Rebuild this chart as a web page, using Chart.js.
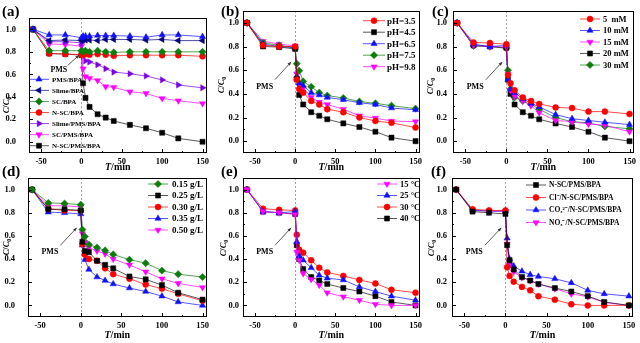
<!DOCTYPE html>
<html>
<head>
<meta charset="utf-8">
<script src="https://cdn.jsdelivr.net/npm/chart.js@4.4.0/dist/chart.umd.min.js"></script>
<style>
  body { margin: 0; background: #fff; width: 640px; height: 343px; position: relative; overflow: hidden; }
  canvas { position: absolute; }
</style>
</head>
<body>
<canvas id="ca"></canvas><canvas id="cb"></canvas><canvas id="cc"></canvas>
<canvas id="cd"></canvas><canvas id="ce"></canvas><canvas id="cf"></canvas>
<script>
// sampling times (min) shared by every series
const times = [-60, -40, -20, 0, 2, 5, 10, 20, 30, 40, 60, 80, 100, 120, 150];
const xTicks = [-50, 0, 50, 100, 150];
const yTicks = [0, 0.2, 0.4, 0.6, 0.8, 1.0];

// (a) systems
const aLabels = ['PMS/BPA', 'Slime/BPA', 'SC/BPA', 'N-SC/BPA', 'Slime/PMS/BPA', 'SC/PMS/BPA', 'N-SC/PMS/BPA'];
const aPmsBpa   = [1.0, 0.95, 0.95, 0.925, 0.94, 0.94, 0.94, 0.945, 0.945, 0.945, 0.94, 0.93, 0.95, 0.95, 0.935];
const aSlimeBpa = [1.0, 0.90, 0.905, 0.90, 0.91, 0.905, 0.905, 0.90, 0.91, 0.91, 0.91, 0.905, 0.91, 0.90, 0.90];
const aScBpa    = [1.0, 0.81, 0.81, 0.81, 0.80, 0.81, 0.80, 0.81, 0.80, 0.795, 0.80, 0.80, 0.80, 0.80, 0.80];
const aNscBpa   = [1.0, 0.785, 0.78, 0.775, 0.77, 0.78, 0.775, 0.78, 0.775, 0.765, 0.77, 0.77, 0.77, 0.77, 0.76];
const aSlimePms = [1.0, 0.89, 0.89, 0.88, 0.78, 0.72, 0.71, 0.685, 0.65, 0.62, 0.605, 0.585, 0.55, 0.505, 0.48];
const aScPms    = [1.0, 0.87, 0.865, 0.85, 0.65, 0.58, 0.565, 0.545, 0.49, 0.485, 0.445, 0.43, 0.385, 0.365, 0.34];
const aNscPms   = [1.0, 0.785, 0.78, 0.77, 0.52, 0.39, 0.31, 0.245, 0.215, 0.185, 0.15, 0.12, 0.08, 0.03, 0.0];

// (b) initial pH
const bLabels = ['pH=3.5', 'pH=4.5', 'pH=6.5', 'pH=7.5', 'pH=9.8'];
const bPh35 = [1.0, 0.81, 0.80, 0.80, 0.52, 0.44, 0.41, 0.34, 0.31, 0.27, 0.245, 0.20, 0.17, 0.155, 0.115];
const bPh45 = [1.0, 0.80, 0.795, 0.78, 0.525, 0.39, 0.31, 0.245, 0.215, 0.185, 0.15, 0.12, 0.08, 0.03, 0.0];
const bPh65 = [1.0, 0.82, 0.80, 0.79, 0.55, 0.49, 0.47, 0.41, 0.39, 0.37, 0.35, 0.325, 0.31, 0.28, 0.265];
const bPh75 = [1.0, 0.83, 0.81, 0.79, 0.655, 0.595, 0.505, 0.46, 0.41, 0.385, 0.365, 0.335, 0.32, 0.30, 0.275];
const bPh98 = [1.0, 0.845, 0.82, 0.805, 0.57, 0.47, 0.45, 0.37, 0.33, 0.31, 0.27, 0.215, 0.195, 0.17, 0.165];

// (c) PMS dosage
const cLabels = ['5  mM', '10 mM', '15 mM', '20 mM', '30 mM'];
const c5  = [1.0, 0.835, 0.83, 0.82, 0.56, 0.49, 0.43, 0.37, 0.34, 0.315, 0.285, 0.28, 0.25, 0.25, 0.23];
const c10 = [1.0, 0.82, 0.80, 0.81, 0.52, 0.44, 0.41, 0.36, 0.32, 0.29, 0.225, 0.19, 0.175, 0.16, 0.14];
const c15 = [1.0, 0.81, 0.80, 0.795, 0.565, 0.43, 0.38, 0.34, 0.30, 0.24, 0.175, 0.165, 0.145, 0.135, 0.08];
const c20 = [1.0, 0.81, 0.80, 0.79, 0.52, 0.40, 0.31, 0.245, 0.215, 0.185, 0.15, 0.12, 0.08, 0.03, 0.0];
const c30 = [1.0, 0.805, 0.80, 0.785, 0.60, 0.44, 0.37, 0.34, 0.31, 0.27, 0.20, 0.165, 0.155, 0.125, 0.105];

// (d) catalyst dosage
const dLabels = ['0.15 g/L', '0.25 g/L', '0.30 g/L', '0.35 g/L', '0.50 g/L'];
const d015 = [1.0, 0.885, 0.88, 0.87, 0.655, 0.595, 0.525, 0.50, 0.475, 0.44, 0.395, 0.365, 0.30, 0.27, 0.245];
const d025 = [1.0, 0.83, 0.83, 0.82, 0.55, 0.47, 0.46, 0.385, 0.35, 0.32, 0.25, 0.225, 0.175, 0.11, 0.05];
const d030 = [1.0, 0.835, 0.82, 0.82, 0.53, 0.44, 0.40, 0.385, 0.32, 0.27, 0.23, 0.18, 0.145, 0.10, 0.04];
const d035 = [1.0, 0.805, 0.80, 0.79, 0.52, 0.395, 0.31, 0.245, 0.215, 0.185, 0.15, 0.12, 0.08, 0.03, 0.0];
const d050 = [1.0, 0.86, 0.86, 0.85, 0.62, 0.545, 0.50, 0.47, 0.445, 0.40, 0.35, 0.29, 0.23, 0.19, 0.155];

// (e) temperature
const eLabels = ['15 °C', '25 °C', '30 °C', '40 °C'];
const e15 = [1.0, 0.81, 0.80, 0.785, 0.46, 0.39, 0.275, 0.225, 0.175, 0.11, 0.075, 0.045, 0.01, 0.0, 0.0];
const e25 = [1.0, 0.81, 0.80, 0.81, 0.55, 0.43, 0.39, 0.325, 0.26, 0.235, 0.22, 0.16, 0.12, 0.08, 0.045];
const e30 = [1.0, 0.835, 0.825, 0.82, 0.61, 0.48, 0.455, 0.39, 0.325, 0.285, 0.255, 0.22, 0.19, 0.135, 0.11];
const e40 = [1.0, 0.81, 0.80, 0.79, 0.52, 0.40, 0.315, 0.245, 0.215, 0.185, 0.15, 0.12, 0.08, 0.03, 0.0];

// (f) coexisting anions
const fLabels = ['N-SC/PMS/BPA', 'Cl\u207B/N-SC/PMS/BPA', 'CO\u2083\u00B2\u207B/N-SC/PMS/BPA', 'NO\u2083\u207B/N-SC/PMS/BPA'];
const fBase = [1.0, 0.81, 0.80, 0.79, 0.52, 0.39, 0.31, 0.245, 0.215, 0.185, 0.15, 0.12, 0.08, 0.03, 0.0];
const fCl   = [1.0, 0.83, 0.82, 0.82, 0.33, 0.255, 0.205, 0.16, 0.13, 0.08, 0.05, 0.01, 0.0, 0.0, 0.0];
const fCo3  = [1.0, 0.82, 0.815, 0.815, 0.58, 0.40, 0.34, 0.295, 0.265, 0.25, 0.23, 0.195, 0.13, 0.10, 0.08];
const fNo3  = [1.0, 0.82, 0.815, 0.81, 0.53, 0.35, 0.29, 0.24, 0.215, 0.185, 0.145, 0.10, 0.075, 0.025, 0.0];

const SERIF = '"Liberation Serif", "Times New Roman", serif';
const MARK = {
  red:     { c: '#ff0000', line: 'rgba(255,0,0,0.7)',     s: 'circle',   r: 3,   rot: 0 },
  black:   { c: '#000000', line: 'rgba(0,0,0,0.65)',      s: 'rect',     r: 3.6, rot: 0 },
  blue:    { c: '#1010ff', line: 'rgba(16,16,255,0.7)',   s: 'triangle', r: 3.6, rot: 0 },
  green:   { c: '#0b7d0b', line: 'rgba(11,125,11,0.7)',   s: 'rectRot',  r: 3.6, rot: 0 },
  magenta: { c: '#ff00ff', line: 'rgba(255,0,255,0.7)',   s: 'triangle', r: 3.6, rot: 180 },
  purple:  { c: '#7a00e6', line: 'rgba(122,0,230,0.7)',   s: 'triangle', r: 3.6, rot: 90 },
  navy:    { c: '#000080', line: 'rgba(0,0,128,0.7)',     s: 'triangle', r: 3.6, rot: -90 }
};

function series(label, vals, key) {
  const m = MARK[key];
  return {
    label,
    data: times.map((t, i) => ({ x: t, y: vals[i] })),
    borderColor: m.line, borderWidth: 1,
    pointStyle: m.s, pointRadius: m.r, pointRotation: m.rot,
    pointBackgroundColor: m.c, pointBorderColor: m.c, pointBorderWidth: 0.5
  };
}

function richText(ctx, parts, x, y) {
  let w = 0;
  parts.forEach(p => { ctx.font = p.f; w += ctx.measureText(p.t).width; });
  let cx = x - w / 2;
  parts.forEach(p => { ctx.font = p.f; ctx.fillText(p.t, cx, y + (p.dy || 0)); cx += ctx.measureText(p.t).width; });
}

const deco = {
  id: 'deco',
  beforeDatasetsDraw(chart) {
    const { ctx, chartArea: a, scales: { x } } = chart;
    const x0 = Math.round(x.getPixelForValue(0)) + 0.5;
    ctx.save();
    ctx.strokeStyle = '#a0a0a0'; ctx.lineWidth = 1; ctx.setLineDash([2, 2]);
    ctx.beginPath(); ctx.moveTo(x0, a.top); ctx.lineTo(x0, a.bottom); ctx.stroke();
    ctx.restore();
  },
  afterDraw(chart, args, o) {
    const { ctx, chartArea: a, scales: { x, y } } = chart;
    ctx.save();
    // frame + inward ticks
    ctx.strokeStyle = '#000'; ctx.lineWidth = 1;
    ctx.strokeRect(Math.round(a.left) + 0.5, Math.round(a.top) + 0.5, Math.round(a.width) - 1, Math.round(a.height) - 1);
    ctx.beginPath();
    xTicks.forEach((v, i) => {
      const px = Math.round(x.getPixelForValue(v)) + 0.5;
      ctx.moveTo(px, a.bottom); ctx.lineTo(px, a.bottom - 4);
      if (i < xTicks.length - 1) {
        const pm = Math.round(x.getPixelForValue((v + xTicks[i + 1]) / 2)) + 0.5;
        ctx.moveTo(pm, a.bottom); ctx.lineTo(pm, a.bottom - 2);
      }
    });
    yTicks.forEach((v, i) => {
      const py = Math.round(y.getPixelForValue(v)) + 0.5;
      ctx.moveTo(a.left, py); ctx.lineTo(a.left + 4, py);
      const pm = Math.round(y.getPixelForValue(v + 0.1)) + 0.5;
      ctx.moveTo(a.left, pm); ctx.lineTo(a.left + 2, pm);
    });
    ctx.stroke();

    ctx.fillStyle = '#000';
    // panel tag
    ctx.textBaseline = 'alphabetic'; ctx.textAlign = 'left';
    ctx.font = 'bold 15px ' + SERIF;
    ctx.fillText(o.tag, o.tagX - o.left, o.tagY - o.top);

    // axis titles
    ctx.textBaseline = 'middle';
    richText(ctx, [{ t: 'T', f: 'italic bold 10px ' + SERIF }, { t: '/min', f: 'bold 10px ' + SERIF }],
      (a.left + a.right) / 2, o.xTitleY - o.top);
    ctx.save();
    ctx.translate(o.yTitleX - o.left, o.yTitleY - o.top);
    ctx.rotate(-Math.PI / 2);
    richText(ctx, [{ t: 'C', f: 'italic bold 8.5px ' + SERIF }, { t: '/', f: 'bold 8.5px ' + SERIF },
      { t: 'C', f: 'italic bold 8.5px ' + SERIF }, { t: '0', f: 'bold 6px ' + SERIF, dy: 2.5 }], 0, 0);
    ctx.restore();

    // PMS arrow
    const p = o.pms;
    const tx = x.getPixelForValue(p.text[0]), ty = y.getPixelForValue(p.text[1]);
    ctx.font = 'bold 8px ' + SERIF; ctx.textAlign = 'center';
    ctx.fillText('PMS', tx, ty);
    const fx = x.getPixelForValue(p.from[0]), fy = y.getPixelForValue(p.from[1]);
    const ex = x.getPixelForValue(p.to[0]), ey = y.getPixelForValue(p.to[1]);
    ctx.strokeStyle = '#333'; ctx.lineWidth = 0.8;
    ctx.beginPath(); ctx.moveTo(fx, fy); ctx.lineTo(ex, ey); ctx.stroke();
    const ang = Math.atan2(ey - fy, ex - fx);
    ctx.fillStyle = '#333';
    ctx.beginPath(); ctx.moveTo(ex, ey);
    ctx.lineTo(ex - 4 * Math.cos(ang - 0.4), ey - 4 * Math.sin(ang - 0.4));
    ctx.lineTo(ex - 4 * Math.cos(ang + 0.4), ey - 4 * Math.sin(ang + 0.4));
    ctx.closePath(); ctx.fill();

    // legend
    const L = o.legend;
    ctx.textAlign = 'left'; ctx.textBaseline = 'middle';
    chart.data.datasets.forEach((ds, i) => {
      const ly = L.y - o.top + i * L.dy;
      const lx0 = L.x0 - o.left, lx1 = L.x1 - o.left;
      ctx.strokeStyle = ds.borderColor; ctx.lineWidth = 1;
      ctx.beginPath(); ctx.moveTo(lx0, ly); ctx.lineTo(lx1, ly); ctx.stroke();
      ctx.fillStyle = ds.pointBackgroundColor; ctx.strokeStyle = ds.pointBorderColor; ctx.lineWidth = 0.5;
      Chart.helpers.drawPoint(ctx, { pointStyle: ds.pointStyle, rotation: ds.pointRotation, radius: ds.pointRadius, borderWidth: 0.5 }, (lx0 + lx1) / 2, ly);
      ctx.fillStyle = '#000';
      ctx.font = 'bold ' + L.size + 'px ' + SERIF;
      ctx.fillText(ds.label, L.tx - o.left, ly + 0.5);
    });
    ctx.restore();
  }
};

function panel(id, pos, datasets, o) {
  const cv = document.getElementById(id);
  cv.width = pos.w; cv.height = pos.h;
  cv.style.left = pos.left + 'px'; cv.style.top = pos.top + 'px';
  const A = pos.area;
  const tickFont = { family: SERIF, size: 8.5, weight: 'bold' };
  return new Chart(cv, {
    type: 'line',
    data: { datasets },
    options: {
      responsive: false, animation: false, events: [],
      layout: { autoPadding: false, padding: { top: A.t - pos.top, right: pos.left + pos.w - A.r, left: 0, bottom: 0 } },
      plugins: {
        legend: { display: false }, tooltip: { enabled: false },
        deco: Object.assign({ left: pos.left, top: pos.top }, o)
      },
      scales: {
        x: {
          type: 'linear', min: -65, max: 155,
          grid: { display: false, drawTicks: false }, border: { display: false },
          afterBuildTicks: s => { s.ticks = xTicks.map(v => ({ value: v })); },
          afterFit: s => { s.height = pos.top + pos.h - A.b; },
          ticks: { font: tickFont, color: '#000', padding: 4, autoSkip: false, maxRotation: 0, callback: v => String(v) }
        },
        y: {
          type: 'linear', min: -0.1, max: 1.1,
          grid: { display: false, drawTicks: false }, border: { display: false },
          afterBuildTicks: s => { s.ticks = yTicks.map(v => ({ value: v })); },
          afterFit: s => { s.width = A.l - pos.left; },
          ticks: { font: tickFont, color: '#000', padding: o.yPad, callback: v => v.toFixed(1) }
        }
      }
    },
    plugins: [deco]
  });
}

const pmsTop = { text: [-38, 0.46], from: [-25, 0.52], to: [-5, 0.67] };

panel('ca', { left: 0, top: 0, w: 213, h: 172, area: { l: 29, r: 208, t: 11, b: 153 } }, [
  series(aLabels[0], aPmsBpa, 'blue'),
  series(aLabels[1], aSlimeBpa, 'navy'),
  series(aLabels[2], aScBpa, 'green'),
  series(aLabels[3], aNscBpa, 'red'),
  series(aLabels[4], aSlimePms, 'purple'),
  series(aLabels[5], aScPms, 'magenta'),
  series(aLabels[6], aNscPms, 'black')
], { tag: '(a)', tagX: 2, tagY: 16, xTitleY: 167, yTitleX: 7, yTitleY: 105, yPad: 13,
     pms: { text: [-28, 0.64], from: [-17, 0.68], to: [-3, 0.77] },
     legend: { x0: 29, x1: 49, tx: 52, y: 79.3, dy: 11.07, size: 7 } });

panel('cb', { left: 213, top: 0, w: 213, h: 172, area: { l: 243, r: 423, t: 11, b: 153 } }, [
  series(bLabels[0], bPh35, 'red'),
  series(bLabels[1], bPh45, 'black'),
  series(bLabels[2], bPh65, 'blue'),
  series(bLabels[3], bPh75, 'green'),
  series(bLabels[4], bPh98, 'magenta')
], { tag: '(b)', tagX: 221, tagY: 16, xTitleY: 167, yTitleX: 222, yTitleY: 85, yPad: 4, pms: pmsTop,
     legend: { x0: 363, x1: 385, tx: 387, y: 20.7, dy: 11.5, size: 9 } });

panel('cc', { left: 426, top: 0, w: 214, h: 172, area: { l: 453, r: 635, t: 11, b: 153 } }, [
  series(cLabels[0], c5, 'red'),
  series(cLabels[1], c10, 'blue'),
  series(cLabels[2], c15, 'magenta'),
  series(cLabels[3], c20, 'black'),
  series(cLabels[4], c30, 'green')
], { tag: '(c)', tagX: 432, tagY: 16, xTitleY: 167, yTitleX: 431, yTitleY: 86, yPad: 6, pms: pmsTop,
     legend: { x0: 580, x1: 600, tx: 603, y: 19, dy: 11.5, size: 8.5 } });

panel('cd', { left: 0, top: 155, w: 213, h: 188, area: { l: 28, r: 208, t: 178, b: 317 } }, [
  series(dLabels[0], d015, 'green'),
  series(dLabels[1], d025, 'black'),
  series(dLabels[2], d030, 'red'),
  series(dLabels[3], d035, 'blue'),
  series(dLabels[4], d050, 'magenta')
], { tag: '(d)', tagX: 2, tagY: 176, xTitleY: 335, yTitleX: 7, yTitleY: 247, yPad: 13, pms: pmsTop,
     legend: { x0: 148, x1: 168, tx: 172, y: 184, dy: 11.5, size: 9 } });

panel('ce', { left: 213, top: 155, w: 213, h: 188, area: { l: 243, r: 422, t: 178, b: 317 } }, [
  series(eLabels[0], e15, 'magenta'),
  series(eLabels[1], e25, 'blue'),
  series(eLabels[2], e30, 'red'),
  series(eLabels[3], e40, 'black')
], { tag: '(e)', tagX: 221, tagY: 176, xTitleY: 335, yTitleX: 224, yTitleY: 248, yPad: 4, pms: pmsTop,
     legend: { x0: 377, x1: 397, tx: 400, y: 184, dy: 11.5, size: 8.5 } });

panel('cf', { left: 426, top: 155, w: 214, h: 188, area: { l: 452, r: 633, t: 178, b: 317 } }, [
  series(fLabels[0], fBase, 'black'),
  series(fLabels[1], fCl, 'red'),
  series(fLabels[2], fCo3, 'blue'),
  series(fLabels[3], fNo3, 'magenta')
], { tag: '(f)', tagX: 431, tagY: 176, xTitleY: 335, yTitleX: 432, yTitleY: 248, yPad: 5, pms: pmsTop,
     legend: { x0: 526, x1: 546, tx: 549, y: 185, dy: 12.5, size: 7.5 } });
</script>
</body>
</html>
